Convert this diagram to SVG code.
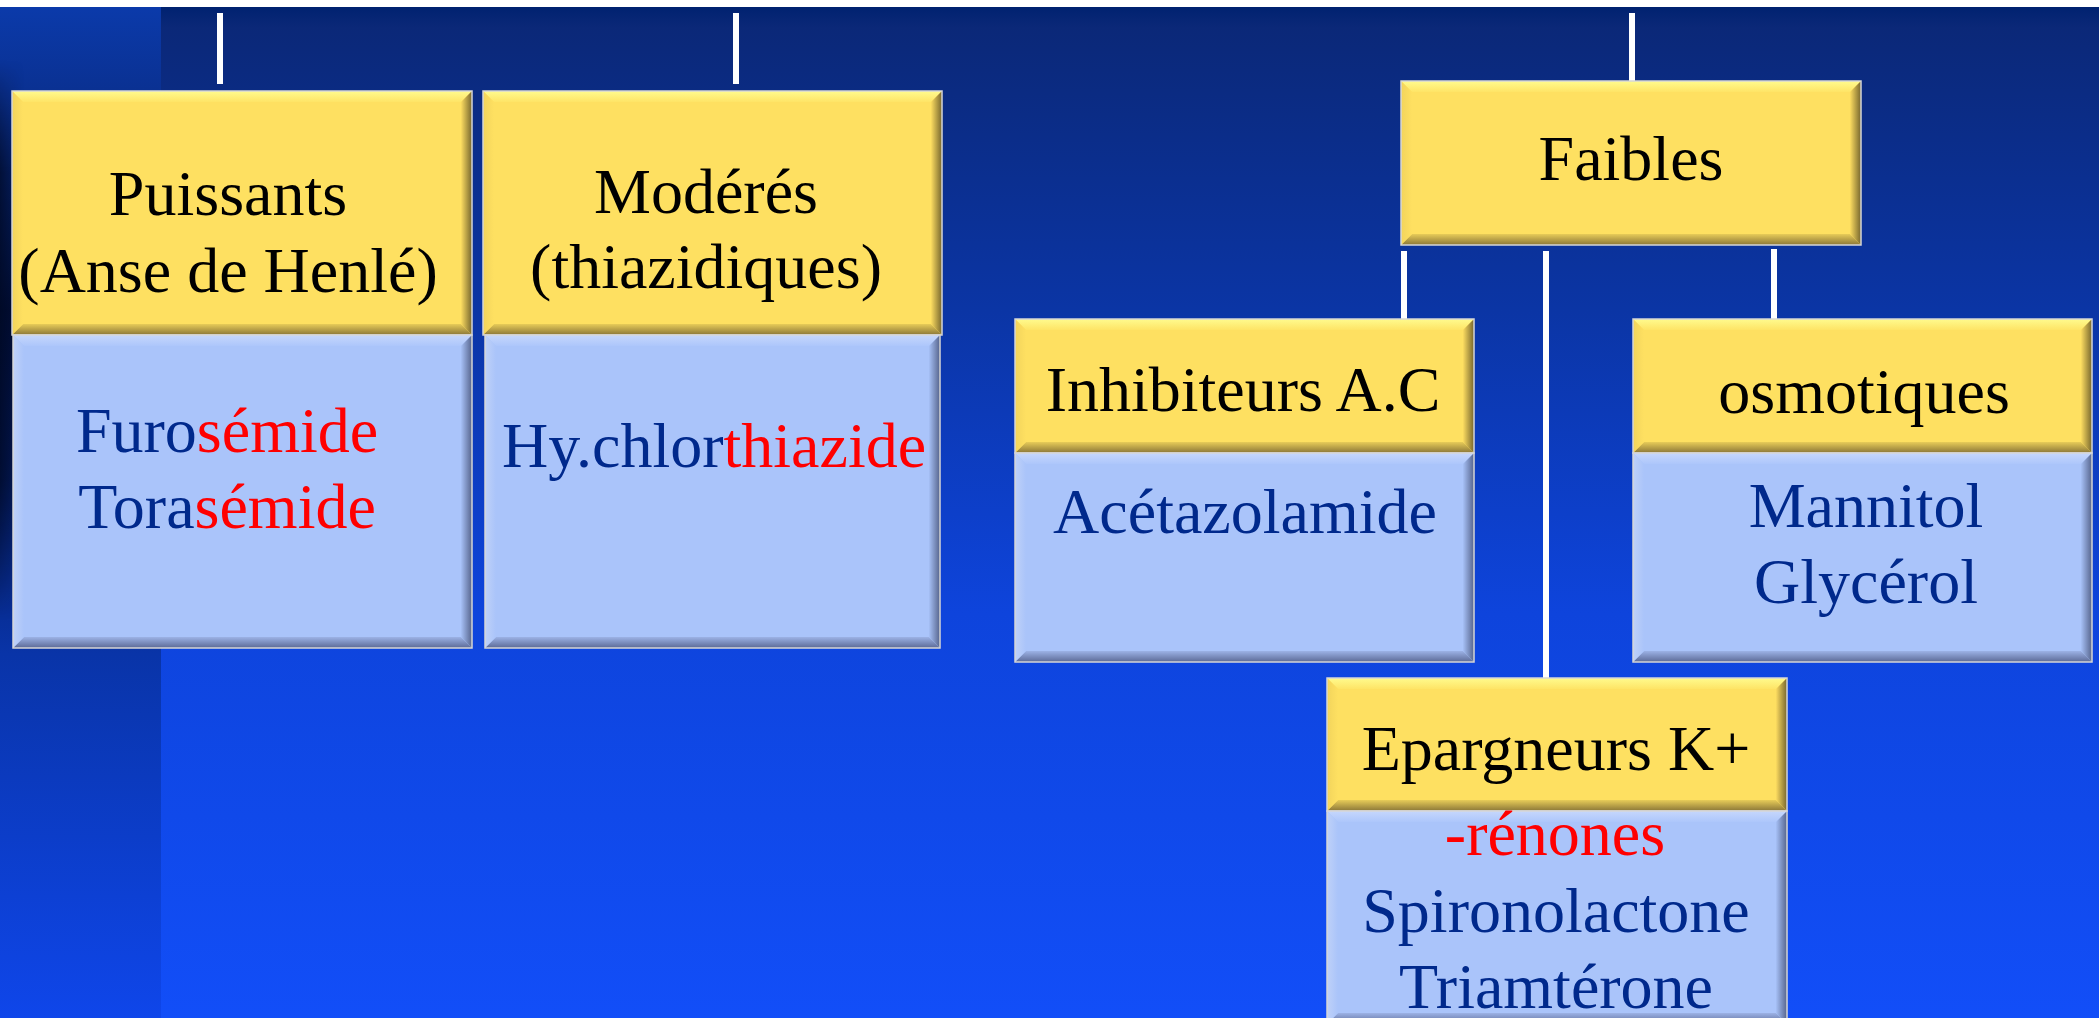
<svg xmlns="http://www.w3.org/2000/svg" width="2099" height="1018" viewBox="0 0 2099 1018">
<defs>
<linearGradient id="bg" x1="0" y1="0" x2="0" y2="1">
<stop offset="0" stop-color="#002270"/>
<stop offset="0.02" stop-color="#0b2878"/>
<stop offset="0.3" stop-color="#0b35a5"/>
<stop offset="0.6" stop-color="#0e44dc"/>
<stop offset="1" stop-color="#124ef8"/>
</linearGradient>
<linearGradient id="strip" x1="0" y1="0" x2="0" y2="1">
<stop offset="0" stop-color="#0b3aaa"/>
<stop offset="0.09" stop-color="#0a3090"/>
<stop offset="0.3" stop-color="#020f3a"/>
<stop offset="0.45" stop-color="#04195a"/>
<stop offset="0.64" stop-color="#0934a8"/>
<stop offset="1" stop-color="#0f46ea"/>
</linearGradient>
<linearGradient id="stripH" x1="0" y1="0" x2="1" y2="0">
<stop offset="0" stop-color="#000820" stop-opacity="0.7"/>
<stop offset="0.15" stop-color="#000820" stop-opacity="0"/>
</linearGradient>
<linearGradient id="stripV" x1="0" y1="0" x2="0" y2="1">
<stop offset="0" stop-color="#fff" stop-opacity="0"/>
<stop offset="0.2" stop-color="#fff" stop-opacity="1"/>
<stop offset="0.75" stop-color="#fff" stop-opacity="1"/>
<stop offset="1" stop-color="#fff" stop-opacity="0"/>
</linearGradient>
<mask id="stripMask"><rect x="0" y="60" width="161" height="560" fill="url(#stripV)"/></mask>
<linearGradient id="yTop" x1="0" y1="0" x2="0" y2="1"><stop offset="0" stop-color="#fffb8e"/><stop offset="1" stop-color="#fee466"/></linearGradient>
<linearGradient id="yBot" x1="0" y1="0" x2="0" y2="1"><stop offset="0" stop-color="#e8cc58"/><stop offset="1" stop-color="#8a7638"/></linearGradient>
<linearGradient id="yLeft" x1="0" y1="0" x2="1" y2="0"><stop offset="0" stop-color="#f2d45c"/><stop offset="1" stop-color="#fee061"/></linearGradient>
<linearGradient id="yRight" x1="0" y1="0" x2="1" y2="0"><stop offset="0" stop-color="#fcdc60"/><stop offset="1" stop-color="#76662e"/></linearGradient>
<linearGradient id="bTop" x1="0" y1="0" x2="0" y2="1"><stop offset="0" stop-color="#c6d7fc"/><stop offset="1" stop-color="#adc6fb"/></linearGradient>
<linearGradient id="bBot" x1="0" y1="0" x2="0" y2="1"><stop offset="0" stop-color="#9cb2e6"/><stop offset="1" stop-color="#5c6a96"/></linearGradient>
<linearGradient id="bLeft" x1="0" y1="0" x2="1" y2="0"><stop offset="0" stop-color="#bfd1f8"/><stop offset="1" stop-color="#aac4fa"/></linearGradient>
<linearGradient id="bRight" x1="0" y1="0" x2="1" y2="0"><stop offset="0" stop-color="#a6c0f6"/><stop offset="1" stop-color="#56648c"/></linearGradient>
</defs>
<style>
.yf{fill:#fee061}
.yt{fill:url(#yTop)}
.yb{fill:url(#yBot)}
.yl{fill:url(#yLeft)}
.yr{fill:url(#yRight)}
.bf{fill:#aac4fa}
.bt{fill:url(#bTop)}
.bb{fill:url(#bBot)}
.bl{fill:url(#bLeft)}
.br{fill:url(#bRight)}
.ol{fill:none;stroke:#d6d6d6;stroke-width:1.5}
.hd{font-family:"Liberation Serif","Times New Roman",serif;font-size:64px;fill:#000;text-anchor:middle}
.bd{font-family:"Liberation Serif","Times New Roman",serif;font-size:64px;fill:#00298c;text-anchor:middle}
.red{fill:#ff0000}
.conn line{stroke:#ffffff;stroke-width:6}
</style>

<g id="background">
<rect x="0" y="0" width="2099" height="1018" fill="#ffffff"/>
<rect x="0" y="7" width="2099" height="1011" fill="url(#bg)"/>
<rect x="0" y="7" width="161" height="1011" fill="url(#strip)"/>
<rect x="0" y="60" width="161" height="560" fill="url(#stripH)" mask="url(#stripMask)"/>
</g>

<g id="connectors" class="conn">
<line x1="220" y1="13" x2="220" y2="84"/>
<line x1="736" y1="13" x2="736" y2="84"/>
<line x1="1632" y1="13" x2="1632" y2="81"/>
<line x1="1404" y1="251" x2="1404" y2="323"/>
<line x1="1546" y1="251" x2="1546" y2="678"/>
<line x1="1774" y1="249" x2="1774" y2="320"/>
</g>

<g id="node-puissants">
<rect class="yf" x="12" y="91" width="460" height="244"/>
<polygon class="yt" points="12,91 472,91 461,102 23,102"/>
<polygon class="yb" points="12,335 472,335 461,324 23,324"/>
<polygon class="yl" points="12,91 23,102 23,324 12,335"/>
<polygon class="yr" points="472,91 461,102 461,324 472,335"/>
<rect class="ol" x="12" y="91" width="460" height="244"/>
<rect class="bf" x="13" y="335" width="459" height="313"/>
<polygon class="bt" points="13,335 472,335 461,346 24,346"/>
<polygon class="bb" points="13,648 472,648 461,637 24,637"/>
<polygon class="bl" points="13,335 24,346 24,637 13,648"/>
<polygon class="br" points="472,335 461,346 461,637 472,648"/>
<rect class="ol" x="13" y="335" width="459" height="313"/>
<text class="hd" x="228" y="215">Puissants</text>
<text class="hd" x="228" y="292">(Anse de Henlé)</text>
<text class="bd" x="227" y="452">Furo<tspan class="red">sémide</tspan></text>
<text class="bd" x="227" y="528">Tora<tspan class="red">sémide</tspan></text>
</g>

<g id="node-moderes">
<rect class="yf" x="483" y="91" width="459" height="244"/>
<polygon class="yt" points="483,91 942,91 931,102 494,102"/>
<polygon class="yb" points="483,335 942,335 931,324 494,324"/>
<polygon class="yl" points="483,91 494,102 494,324 483,335"/>
<polygon class="yr" points="942,91 931,102 931,324 942,335"/>
<rect class="ol" x="483" y="91" width="459" height="244"/>
<rect class="bf" x="485" y="335" width="455" height="313"/>
<polygon class="bt" points="485,335 940,335 929,346 496,346"/>
<polygon class="bb" points="485,648 940,648 929,637 496,637"/>
<polygon class="bl" points="485,335 496,346 496,637 485,648"/>
<polygon class="br" points="940,335 929,346 929,637 940,648"/>
<rect class="ol" x="485" y="335" width="455" height="313"/>
<text class="hd" x="706" y="213">Modérés</text>
<text class="hd" x="706" y="288">(thiazidiques)</text>
<text class="bd" x="714" y="467">Hy.chlor<tspan class="red">thiazide</tspan></text>
</g>

<g id="node-faibles">
<rect class="yf" x="1401" y="81" width="460" height="164"/>
<polygon class="yt" points="1401,81 1861,81 1850,92 1412,92"/>
<polygon class="yb" points="1401,245 1861,245 1850,234 1412,234"/>
<polygon class="yl" points="1401,81 1412,92 1412,234 1401,245"/>
<polygon class="yr" points="1861,81 1850,92 1850,234 1861,245"/>
<rect class="ol" x="1401" y="81" width="460" height="164"/>
<text class="hd" x="1631" y="180">Faibles</text>
</g>

<g id="node-inhibiteurs">
<rect class="yf" x="1015" y="319" width="459" height="134"/>
<polygon class="yt" points="1015,319 1474,319 1463,330 1026,330"/>
<polygon class="yb" points="1015,453 1474,453 1463,442 1026,442"/>
<polygon class="yl" points="1015,319 1026,330 1026,442 1015,453"/>
<polygon class="yr" points="1474,319 1463,330 1463,442 1474,453"/>
<rect class="ol" x="1015" y="319" width="459" height="134"/>
<rect class="bf" x="1015" y="453" width="459" height="209"/>
<polygon class="bt" points="1015,453 1474,453 1463,464 1026,464"/>
<polygon class="bb" points="1015,662 1474,662 1463,651 1026,651"/>
<polygon class="bl" points="1015,453 1026,464 1026,651 1015,662"/>
<polygon class="br" points="1474,453 1463,464 1463,651 1474,662"/>
<rect class="ol" x="1015" y="453" width="459" height="209"/>
<text class="hd" x="1243" y="411">Inhibiteurs A.C</text>
<text class="bd" x="1245" y="533">Acétazolamide</text>
</g>

<g id="node-osmotiques">
<rect class="yf" x="1633" y="319" width="459" height="134"/>
<polygon class="yt" points="1633,319 2092,319 2081,330 1644,330"/>
<polygon class="yb" points="1633,453 2092,453 2081,442 1644,442"/>
<polygon class="yl" points="1633,319 1644,330 1644,442 1633,453"/>
<polygon class="yr" points="2092,319 2081,330 2081,442 2092,453"/>
<rect class="ol" x="1633" y="319" width="459" height="134"/>
<rect class="bf" x="1633" y="453" width="459" height="209"/>
<polygon class="bt" points="1633,453 2092,453 2081,464 1644,464"/>
<polygon class="bb" points="1633,662 2092,662 2081,651 1644,651"/>
<polygon class="bl" points="1633,453 1644,464 1644,651 1633,662"/>
<polygon class="br" points="2092,453 2081,464 2081,651 2092,662"/>
<rect class="ol" x="1633" y="453" width="459" height="209"/>
<text class="hd" x="1864" y="413">osmotiques</text>
<text class="bd" x="1866" y="527">Mannitol</text>
<text class="bd" x="1866" y="603">Glycérol</text>
</g>

<g id="node-epargneurs">
<rect class="yf" x="1327" y="678" width="460" height="133"/>
<polygon class="yt" points="1327,678 1787,678 1776,689 1338,689"/>
<polygon class="yb" points="1327,811 1787,811 1776,800 1338,800"/>
<polygon class="yl" points="1327,678 1338,689 1338,800 1327,811"/>
<polygon class="yr" points="1787,678 1776,689 1776,800 1787,811"/>
<rect class="ol" x="1327" y="678" width="460" height="133"/>
<rect class="bf" x="1327" y="811" width="460" height="213"/>
<polygon class="bt" points="1327,811 1787,811 1776,822 1338,822"/>
<polygon class="bb" points="1327,1024 1787,1024 1776,1013 1338,1013"/>
<polygon class="bl" points="1327,811 1338,822 1338,1013 1327,1024"/>
<polygon class="br" points="1787,811 1776,822 1776,1013 1787,1024"/>
<rect class="ol" x="1327" y="811" width="460" height="213"/>
<text class="hd" x="1556" y="770">Epargneurs K+</text>
<text class="bd red" x="1555" y="855">-rénones</text>
<text class="bd" x="1556" y="932">Spironolactone</text>
<text class="bd" x="1556" y="1008">Triamtérone</text>
</g>
</svg>
